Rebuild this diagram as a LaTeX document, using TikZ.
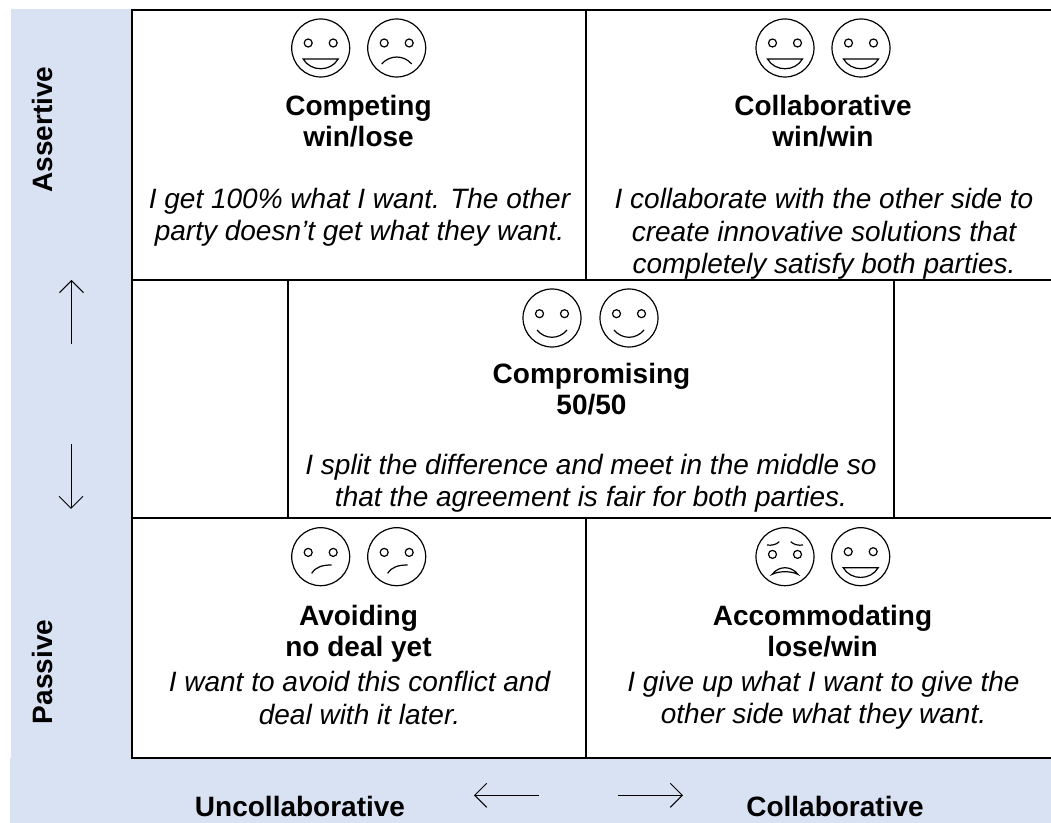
\documentclass[tikz,border=0pt]{standalone}
\usepackage{fontspec}
\setmainfont{Liberation Sans}
\usepackage{tikz}
\usetikzlibrary{arrows.meta}

\definecolor{bandblue}{HTML}{D9E2F3}

% Circle and two eyes of a smiley, eye height as argument
\newcommand{\smileyhead}[1]{
    \node[face] (-head) at (0,0) {};
    \node[eye] (-eye left) at (-12.5,#1) {};
    \node[eye] (-eye right) at (12.5,#1) {};
}

\tikzset{
    grin/.pic={\smileyhead{-5}
        \draw[mouth] (-17.5,11) .. controls (-10,24) and (10,24) .. (17.5,11) -- cycle;},
    frown/.pic={\smileyhead{-5}
        \draw[mouth] (-15,16) .. controls (-7,6.7) and (7,6.7) .. (15,16);},
    smile/.pic={\smileyhead{-4.3}
        \draw[mouth] (-15,12) .. controls (-7,21.7) and (7,21.7) .. (15,12);},
    smirk/.pic={\smileyhead{-4.3}
        \draw[mouth] (-9,16.7) .. controls (-5,10) and (2,8.3) .. (11,8.3);},
    worried/.pic={\smileyhead{-2.3}
        \draw[mouth] (-18,-11.7) .. controls (-13,-11) and (-9,-12) .. (-5.7,-15);
        \draw[mouth] (18,-11.7) .. controls (13,-11) and (9,-12) .. (5.7,-15);
        \draw[mouth] (-13,17.7) .. controls (-6,8.8) and (6,8.8) .. (13,17.7)
            .. controls (6,14.1) and (-6,14.1) .. cycle;}
}

\begin{document}
\begin{tikzpicture}[
    x=0.75pt, y=-0.75pt,
    every node/.style={anchor=center, align=center},
    title/.style={font=\fontsize{21}{23.3}\selectfont\bfseries},
    quote/.style={font=\fontsize{21}{24.2}\selectfont\itshape},
    side/.style={font=\fontsize{21}{23}\selectfont\bfseries},
    gridline/.style={line width=1.5pt},
    arrow/.style={line width=0.75pt, -{Straight Barb[length=9pt, width=18pt, line width=0.75pt]}},
    face/.style={circle, draw, line width=0.9pt, minimum size=43.5pt, inner sep=0pt},
    eye/.style={circle, draw, line width=0.9pt, minimum size=6pt, inner sep=0pt},
    mouth/.style={line width=0.9pt}
    ]

\useasboundingbox (0,0) rectangle (1051,823);

% Blue bands
\fill[bandblue] (11,9) rectangle (131,758);
\fill[bandblue] (10,758) rectangle (1051,823);

% Grid
\draw[gridline] (1051,10.5) -- (131.5,10.5) -- (131.5,758) -- (1051,758);
\draw[gridline] (131.5,280.5) -- (1051,280.5);
\draw[gridline] (131.5,518) -- (1051,518);
\draw[gridline] (586,10.5) -- (586,280.5);
\draw[gridline] (586,518) -- (586,758);
\draw[gridline] (288,280.5) -- (288,518);
\draw[gridline] (894,280.5) -- (894,518);

% Competing
\pic (competing a) at (320.7,48) {grin};
\pic (competing b) at (396.7,48) {frown};
\node[title] (competing) at (358.5,121) {Competing\\win/lose};
\node[quote] (competing quote) at (359.5,217) {I get 100\% what I want. The other\\party doesn’t get what they want.};

% Collaborative
\pic (collab a) at (785,48) {grin};
\pic (collab b) at (861,48) {grin};
\node[title] (collab) at (823,121) {Collaborative\\win/win};
\node[quote] (collab quote) at (824,234) {I collaborate with the other side to\\create innovative solutions that\\completely satisfy both parties.};

% Compromising
\pic (compromise a) at (552,318) {smile};
\pic (compromise b) at (629,318) {smile};
\node[title] (compromise) at (591.5,389.5) {Compromising\\50/50};
\node[quote] (compromise quote) at (591,483) {I split the difference and meet in the middle so\\that the agreement is fair for both parties.};

% Avoiding
\pic (avoid a) at (320.7,556.7) {smirk};
\pic (avoid b) at (396.7,556.7) {smirk};
\node[title] (avoid) at (358.5,634) {Avoiding\\no deal yet};
\node[quote] (avoid quote) at (359.5,698) {I want to avoid this conflict and\\deal with it later.};

% Accommodating
\pic (accommodate a) at (785,556.7) {worried};
\pic (accommodate b) at (860.7,556.7) {grin};
\node[title] (accommodate) at (822.5,631.5) {Accommodating\\lose/win};
\node[quote] (accommodate quote) at (823.5,700.5) {I give up what I want to give the\\other side what they want.};

% Axis labels
\node[side, rotate=90] (assertive) at (42,129.5) {Assertive};
\node[side, rotate=90] (passive) at (42,672) {Passive};
\node[side] (uncollaborative) at (300,806) {Uncollaborative};
\node[side] (collaborative) at (835,806) {Collaborative};

% Axis arrows
\coordinate (up from) at (71.5,344);
\coordinate (up to) at (71.5,280);
\coordinate (down from) at (71,444);
\coordinate (down to) at (71,509);
\coordinate (left from) at (539,795.3);
\coordinate (left to) at (474,795.3);
\coordinate (right from) at (618,795.3);
\coordinate (right to) at (683,795.3);
\draw[arrow] (up from) -- (up to);
\draw[arrow] (down from) -- (down to);
\draw[arrow] (left from) -- (left to);
\draw[arrow] (right from) -- (right to);

\end{tikzpicture}
\end{document}
